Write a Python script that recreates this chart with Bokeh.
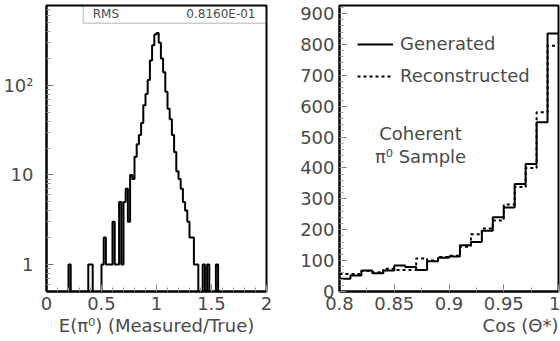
from bokeh.plotting import figure
from bokeh.layouts import row
from bokeh.models import FixedTicker, BoxAnnotation, Label, Legend, LegendItem, Range1d, Title
from bokeh.embed import file_html
from bokeh.resources import INLINE

# ---------------- data ----------------
# Left: E(pi0) measured/true histogram (bin width 0.02), non-empty bins only
res_bin_lo = [0.20, 0.38, 0.40, 0.50, 0.52, 0.54, 0.56, 0.58, 0.60, 0.62, 0.64, 0.66,
              0.68, 0.70, 0.72, 0.74, 0.76, 0.78, 0.80, 0.82, 0.84, 0.86, 0.88, 0.90,
              0.92, 0.94, 0.96, 0.98, 1.00, 1.02, 1.04, 1.06, 1.08, 1.10, 1.12, 1.14,
              1.16, 1.18, 1.20, 1.22, 1.24, 1.26, 1.28, 1.30, 1.32, 1.34, 1.36, 1.42,
              1.46, 1.54]
res_counts = [1, 1, 1, 1, 2, 1, 1, 1, 3, 1, 1, 5,
              1, 5, 7, 3, 10, 9, 16, 22, 28, 38, 60, 80,
              115, 190, 280, 370, 385, 300, 200, 140, 85, 55, 42, 28,
              18, 11, 9, 7, 5, 4, 3, 2, 2, 1, 1, 1,
              1, 1]
res_bin_width = 0.02
res_rms_text = "0.8160E-01"

# Right: cos(theta*) distributions, bins of 0.01 from 0.80 to 1.00
cos_edges = [0.80, 0.81, 0.82, 0.83, 0.84, 0.85, 0.86, 0.87, 0.88, 0.89, 0.90,
             0.91, 0.92, 0.93, 0.94, 0.95, 0.96, 0.97, 0.98, 0.99, 1.00]
generated = [41, 52, 68, 59, 68, 84, 79, 70, 98, 109, 113, 150, 160, 197, 240, 272, 348, 413, 548, 835]
reconstructed = [57, 57, 66, 62, 74, 70, 70, 107, 100, 112, 116, 145, 185, 204, 230, 282, 338, 400, 580, 796]

FONT = "DejaVu Sans"
TXT = "#4a4a4a"

def style_axes(p):
    for ax in list(p.xaxis) + list(p.yaxis):
        ax.axis_line_color = "black"
        ax.axis_line_width = 2
        ax.major_tick_in = 7
        ax.major_tick_out = 0
        ax.minor_tick_in = 4
        ax.minor_tick_out = 0
        ax.major_tick_line_color = "#777777"
        ax.minor_tick_line_color = "#999999"
        ax.major_label_text_font = FONT
        ax.major_label_text_font_size = "18px"
        ax.major_label_text_color = TXT
        ax.axis_label_text_font = FONT
        ax.axis_label_text_font_size = "18px"
        ax.axis_label_text_font_style = "normal"
        ax.axis_label_text_color = TXT
    p.xgrid.visible = False
    p.ygrid.visible = False
    p.outline_line_color = "black"
    p.outline_line_width = 2
    p.outline_line_alpha = 1.0

# ---------------- left figure ----------------
# Build full step path from non-empty bins (empty bins drop to the bottom)
nbins = int(round(2.0 / res_bin_width))
full = [0] * nbins
for lo, c in zip(res_bin_lo, res_counts):
    full[int(round(lo / res_bin_width))] = c
floor = 0.1
lx, ly = [], []
for i, c in enumerate(full):
    v = c if c > 0 else floor
    lx += [i * res_bin_width, (i + 1) * res_bin_width]
    ly += [v, v]

p1 = figure(width=280, height=341, x_range=Range1d(0, 2), y_range=Range1d(0.5, 780),
            y_axis_type="log", output_backend="svg", toolbar_location=None,
            min_border_left=45, min_border_right=14, min_border_top=5, min_border_bottom=50,
            background_fill_color="white", border_fill_color="white")
p1.line(lx, ly, line_color="black", line_width=2)

p1.xaxis.ticker = FixedTicker(ticks=[0, 0.5, 1, 1.5, 2],
                              minor_ticks=[round(0.1 * k, 1) for k in range(21)])
p1.xaxis.major_label_overrides = {0: "0", 0.5: "0.5", 1: "1", 1.5: "1.5", 2: "2"}
p1.yaxis.ticker = FixedTicker(ticks=[1, 10, 100],
                              minor_ticks=[0.6, 0.7, 0.8, 0.9] + list(range(2, 10)) +
                              list(range(20, 100, 10)) + list(range(200, 800, 100)))
p1.yaxis.major_label_overrides = {1: "1", 10: "10", 100: "10²"}
p1.xaxis.axis_label = "E(π⁰) (Measured/True)"
style_axes(p1)
p1.xaxis.major_label_standoff = 5
p1.xaxis.axis_label_standoff = 2
p1.yaxis.major_label_standoff = 13

stat_box = BoxAnnotation(left=0.335, bottom=493, fill_alpha=0, line_color="#555555", line_width=1.5)
p1.add_layout(stat_box)
p1.add_layout(Label(x=0.42, y=621, text="RMS", text_font=FONT, text_font_size="12px",
                    text_color=TXT, text_baseline="middle"))
p1.add_layout(Label(x=1.90, y=621, text=res_rms_text, text_font=FONT, text_font_size="12px",
                    text_color=TXT, text_baseline="middle", text_align="right"))

# ---------------- right figure ----------------
p2 = figure(width=280, height=341, x_range=Range1d(0.8, 1.0), y_range=Range1d(0, 926),
            output_backend="svg", toolbar_location=None,
            min_border_left=59, min_border_right=2, min_border_top=5, min_border_bottom=0,
            background_fill_color="white", border_fill_color="white")
r_gen = p2.step(cos_edges, generated + [generated[-1]], mode="after",
                line_color="black", line_width=2)
r_rec = p2.step(cos_edges, reconstructed + [reconstructed[-1]], mode="after",
                line_color="black", line_width=2, line_dash="3 3")

p2.xaxis.ticker = FixedTicker(ticks=[0.8, 0.85, 0.9, 0.95, 1.0],
                              minor_ticks=[round(0.8 + 0.025 * k, 3) for k in range(9)])
p2.xaxis.major_label_overrides = {0.8: "0.8", 0.85: "0.85", 0.9: "0.9", 0.95: "0.95", 1: "1"}
p2.yaxis.ticker = FixedTicker(ticks=list(range(0, 1000, 100)),
                              minor_ticks=list(range(0, 930, 20)))
style_axes(p2)
p2.xaxis.major_label_standoff = 5
p2.yaxis.major_label_standoff = 5

# x-axis title, right-aligned at the end of the axis (below the frame)
p2.add_layout(Title(text="Cos (Θ*)", align="right", text_font=FONT, text_font_size="18px",
                    text_color=TXT, text_font_style="normal", standoff=0, offset=0),
              "below")

legend = Legend(items=[LegendItem(label="Generated", renderers=[r_gen]),
                       LegendItem(label="Reconstructed", renderers=[r_rec])],
                location=(18, 205), padding=0, margin=0, spacing=11,
                glyph_width=36, label_standoff=7, border_line_alpha=0,
                background_fill_alpha=0, label_text_font=FONT,
                label_text_font_size="18px", label_text_color=TXT)
p2.add_layout(legend)

p2.add_layout(Label(x=0.874, y=511, text="Coherent", text_font=FONT, text_font_size="18px",
                    text_color=TXT, text_align="center", text_baseline="middle"))
p2.add_layout(Label(x=0.874, y=437, text="π⁰ Sample", text_font=FONT, text_font_size="18px",
                    text_color=TXT, text_align="center", text_baseline="middle"))

layout = row(p1, p2, spacing=0)
html = file_html(layout, INLINE)
html = html.replace("<head>", "<head><style>html,body{margin:0;padding:0;}</style>", 1)
open("out.html", "w").write(html)
